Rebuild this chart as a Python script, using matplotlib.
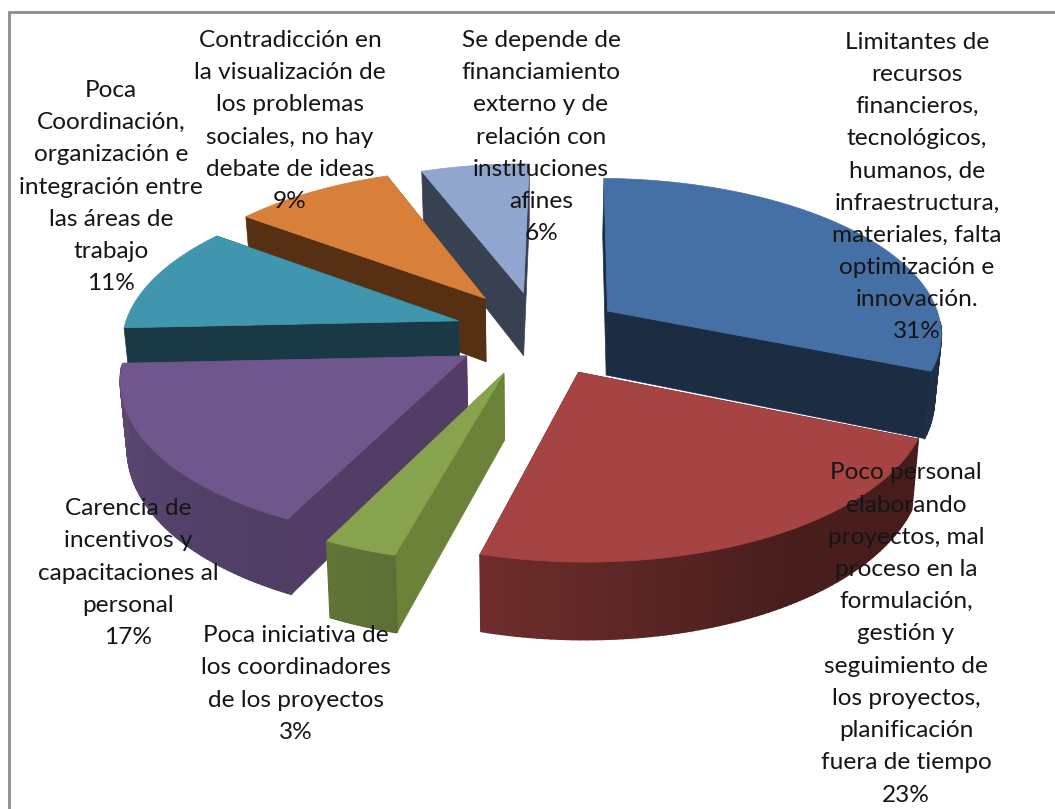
import numpy as np
import matplotlib
matplotlib.use("Agg")
import matplotlib.pyplot as plt
from matplotlib.collections import PolyCollection

# dados
etiquetas = [
    "Limitantes de\nrecursos\nfinancieros,\ntecnológicos,\nhumanos, de\ninfraestructura,\nmateriales, falta\noptimización e\ninnovación.",
    "Poco personal\nelaborando\nproyectos, mal\nproceso en la\nformulación,\ngestión y\nseguimiento de\nlos proyectos,\nplanificación\nfuera de tiempo",
    "Poca iniciativa de\nlos coordinadores\nde los proyectos",
    "Carencia de\nincentivos y\ncapacitaciones al\npersonal",
    "Poca\nCoordinación,\norganización e\nintegración entre\nlas áreas de\ntrabajo",
    "Contradicción en\nla visualización de\nlos problemas\nsociales, no hay\ndebate de ideas",
    "Se depende de\nfinanciamiento\nexterno y de\nrelación con\ninstituciones\nafines",
]
valores = [31, 23, 3, 17, 11, 9, 6]

# estilo de cada fatia
explosao_u = [0.235, 0.14, -0.075, -0.185, -0.215, -0.137, -0.02]
explosao_v = [0.125, -0.265, -0.27, -0.165, 0.06, 0.21, 0.25]
cores = ["#4470A5", "#A54442", "#87A34D", "#6F568C", "#4096AE", "#D8803A", "#91A6CE"]
cores_parede = ["#1B2C43", "#451A18", "#6B8239", "#533D66", "#193A45", "#573014", "#384152"]
ordem_desenho = [6, 0, 5, 4, 3, 2, 1]
pos_texto = [(917, 187), (906, 634), (296, 684), (128, 573), (111, 187), (290, 121), (541, 137)]

# camera
CX, CY = 530, 330
RX, RY = 335, 154
K = 0.127
PROF = 65
ENCOLHE = 0.983
T0 = 1.0


def projeta(u, v, baixo=False):
    s = 1 / (1 + K * v)
    x = CX + RX * u * s
    y = CY - RY * v * s
    if baixo:
        y = y + PROF * s
        x = CX + (x - CX) * ENCOLHE
    return x, y


def escurece(cor, f):
    return tuple(c * f for c in matplotlib.colors.to_rgb(cor))


fig = plt.figure(figsize=(10.55, 8.09), dpi=100)
ax = fig.add_axes([0, 0, 1, 1])
ax.set_xlim(0, 1055)
ax.set_ylim(809, 0)
ax.axis("off")

ax.plot([9, 9, 1055], [809, 12, 12], color="#8C8C8C", lw=2, solid_joinstyle="miter")

limites = T0 + np.concatenate([[0], np.cumsum(valores)]) * 360 / sum(valores)

for n, i in enumerate(ordem_desenho):
    ox, oy = explosao_u[i], explosao_v[i]
    t = np.radians(np.linspace(limites[i], limites[i + 1], 80))
    u = ox + np.sin(t)
    v = oy + np.cos(t)

    xa, ya = projeta(u, v)
    xb, yb = projeta(u, v, baixo=True)
    x0a, y0a = projeta(ox, oy)
    x0b, y0b = projeta(ox, oy, baixo=True)
    z = 2 + n

    # paredes radiais
    for k in (0, -1):
        ax.fill([x0a, xa[k], xb[k], x0b], [y0a, ya[k], yb[k], y0b],
                color=cores_parede[i], lw=0.5, zorder=z)

    # borda curva com gradiente, so a parte virada para a frente
    fator = np.interp(np.degrees(t) % 360, [100, 150, 200, 270], [0.42, 0.44, 0.7, 0.84])
    quads, cs = [], []
    for j in range(len(t) - 1):
        if np.cos(t[j]) < -0.07:
            quads.append([(xa[j], ya[j]), (xa[j + 1], ya[j + 1]), (xb[j + 1], yb[j + 1]), (xb[j], yb[j])])
            cs.append(escurece(cores[i], fator[j]))
    if quads:
        ax.add_collection(PolyCollection(quads, facecolors=cs, edgecolors=cs, linewidths=1.3, zorder=z + 0.1))

    ax.fill(np.r_[x0a, xa], np.r_[y0a, ya], color=cores[i], lw=0.5, zorder=z + 0.2)

for nome, val, (x, y) in zip(etiquetas, valores, pos_texto):
    ax.text(x, y, f"{nome}\n{val}%", ha="center", va="center", ma="center",
            family="Lato", fontsize=17.6, linespacing=1.66, color="#151515", zorder=20)

fig.savefig("out.png", dpi=100)
